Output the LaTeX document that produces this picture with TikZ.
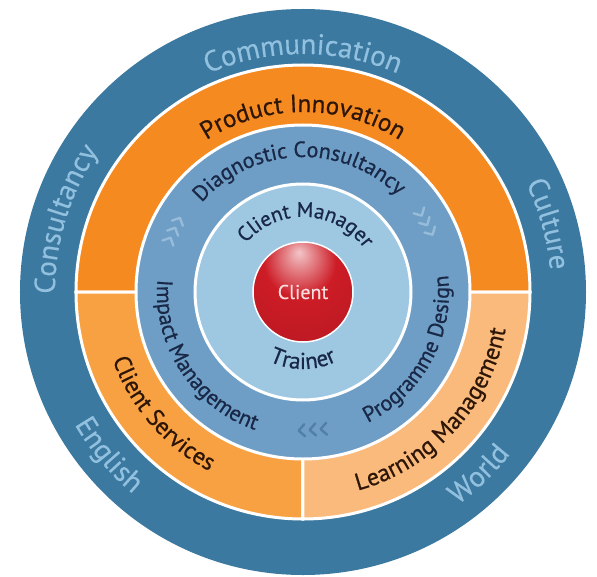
\documentclass[tikz,border=0pt]{standalone}
\usepackage{fontspec}
\setmainfont{PT Sans}
\newfontfamily\ringfont{PT Sans}[FakeBold=0.6]
\newfontfamily\outerfont{PT Sans}[FakeBold=0.3]
\usetikzlibrary{decorations.text}

\definecolor{outerblue}{RGB}{60,121,160}
\definecolor{outertext}{RGB}{146,193,224}
\definecolor{orangetop}{RGB}{245,138,32}
\definecolor{orangeleft}{RGB}{247,161,66}
\definecolor{orangeright}{RGB}{250,186,124}
\definecolor{midblue}{RGB}{110,157,197}
\definecolor{lightblue}{RGB}{158,199,226}
\definecolor{navytext}{RGB}{24,40,70}
\definecolor{browntext}{RGB}{45,22,8}
\definecolor{chevlight}{RGB}{150,188,218}
\definecolor{chevdark}{RGB}{82,126,170}
\definecolor{ballred}{RGB}{205,28,38}
\definecolor{clienttext}{RGB}{250,222,222}
\pgfdeclareradialshading{clientball}{\pgfpoint{-2bp}{20bp}}{color(0bp)=(white!75!ballred);
    color(7bp)=(ballred!55!white); color(18bp)=(ballred); color(42bp)=(ballred!90!black);
    color(58bp)=(ballred!70!black); color(75bp)=(ballred!55!black)}

\begin{document}
\begin{tikzpicture}[x=1pt, y=1pt,
        ring/.style={draw=white, line width=3pt},
        chev/.style={line width=2.4pt, line cap=round, line join=round},
        ]
        \newcommand{\ringtop}[5]{\path[decorate, decoration={text along path, text align=center,
            text={|#4\fontsize{#3}{#3}\selectfont|#5}}] (#1+90:#2) arc[start angle=#1+90, end angle=#1-90, radius=#2];}
        \newcommand{\ringbot}[5]{\path[decorate, decoration={text along path, text align=center,
            text={|#4\fontsize{#3}{#3}\selectfont|#5}}] (#1-90:#2) arc[start angle=#1-90, end angle=#1+90, radius=#2];}
        \fill[white] (-303,-284) rectangle (294,292);
        \useasboundingbox (-303,-284) rectangle (294,292);
        % rings
        \fill[outerblue] (0,0) circle[radius=283];
        \foreach \a/\b/\c in {0/180/orangetop, 180/270/orangeleft, 270/360/orangeright}
            \filldraw[ring, fill=\c] (0,0) -- (\a:227) arc[start angle=\a, end angle=\b, radius=227] -- cycle;
        \filldraw[ring, fill=midblue] (0,0) circle[radius=167];
        \filldraw[ring, fill=lightblue] (0,0) circle[radius=108];
        \node[circle, minimum size=100pt, draw=white, line width=1.5pt, shading=clientball,
            text=clienttext, font=\outerfont\fontsize{20}{20}\selectfont] (client) at (0,0) {Client};
        % chevrons
        \foreach \ang/\rad/\col in {154.5/143/chevlight, 29.5/141/chevlight, -86/138/chevdark}
            \foreach \k in {-1,0,1}
                \draw[chev, draw=\col, shift={(\ang:\rad)}, rotate=\ang-90]
                    (\k*11-3,6) -- (\k*11+3,0) -- (\k*11-3,-6);
        % outer ring
        \ringtop{90}{238}{29}{\outerfont\color{outertext}}{Communication}
        \ringtop{15.5}{248}{29}{\outerfont\color{outertext}}{Culture}
        \ringtop{163}{248}{29}{\outerfont\color{outertext}}{Consultancy}
        \ringbot{220}{264}{29}{\outerfont\color{outertext}}{English}
        \ringbot{-46}{263}{29}{\outerfont\color{outertext}}{World}
        % orange ring
        \ringtop{90}{180}{25}{\ringfont\color{browntext}}{Product Innovation}
        \ringbot{221}{202}{24}{\ringfont\color{browntext}}{Client Services}
        \ringbot{-42.5}{206}{24}{\ringfont\color{browntext}}{Learning Management}
        % middle ring
        \ringtop{92}{135}{22}{\ringfont\color{navytext}}{Diagnostic Consultancy}
        \ringbot{213}{146}{22}{\ringfont\color{navytext}}{Impact Management}
        \ringbot{-28.5}{146}{22}{\ringfont\color{navytext}}{Programme Design}
        % inner disc
        \ringtop{87.5}{75}{21}{\ringfont\color{navytext}}{Client Manager}
        \ringbot{-90}{77}{23}{\ringfont\color{navytext}}{Trainer}
    \end{tikzpicture}
\end{document}
